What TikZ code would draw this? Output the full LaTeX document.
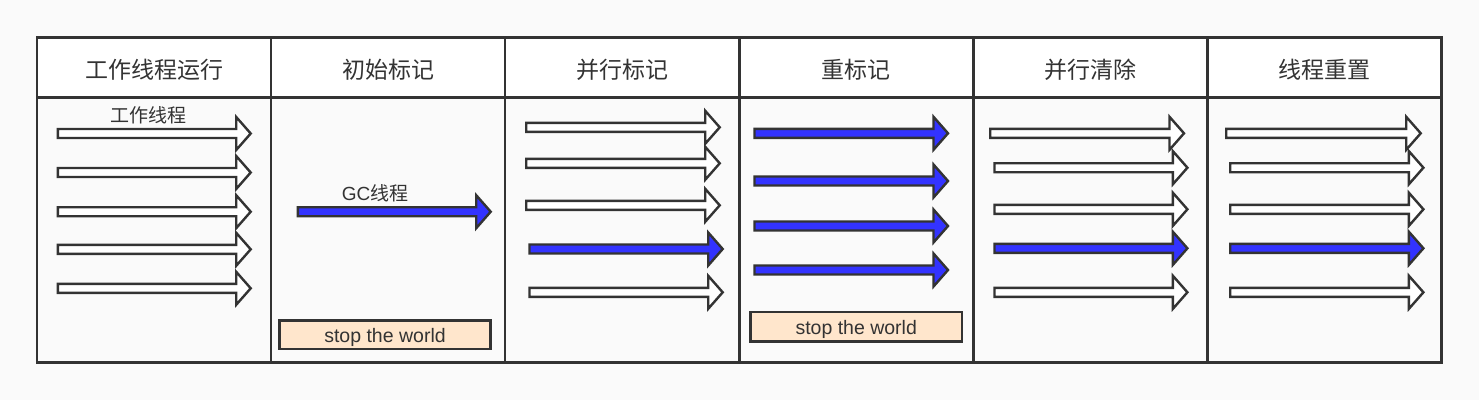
\documentclass[tikz,border=0pt]{standalone}
\usepackage{fontspec}
\setmainfont{Noto Sans CJK SC}
\newfontfamily\latinfont{Liberation Sans}
\definecolor{bgc}{HTML}{FAFAFA}
\definecolor{linec}{HTML}{333333}
\definecolor{bluec}{HTML}{3333FF}
\definecolor{peach}{HTML}{FFE6CC}
\newcommand\barrow[4]{%
  \draw[arrowline,fill=#4] (#1,#3-4.5) -- (#2,#3-4.5) -- (#2,#3-16.5) -- ({#2+14.5},#3)
   -- (#2,#3+16.5) -- (#2,#3+4.5) -- (#1,#3+4.5) -- cycle;}
\begin{document}
\begin{tikzpicture}[x=1pt,y=-1pt,
  arrowline/.style={draw=linec,line width=2.4pt,line join=miter},
  gridline/.style={draw=linec,line width=2.6pt},
  head/.style={font=\fontsize{23}{26}\selectfont,text=linec,inner sep=0pt},
  lbl/.style={font=\fontsize{19}{22}\selectfont,text=linec,inner sep=0pt},
  stw/.style={draw=linec,fill=peach,line width=2.5pt,font=\latinfont\fontsize{19.5}{22}\selectfont,text=linec,inner sep=0pt,text height=19pt,text depth=4pt}]
\useasboundingbox (0,0) rectangle (1479,400);
\fill[bgc] (0,0) rectangle (1479,400);
\fill[white] (37,37.5) rectangle (1441.5,97.3);
% grid
\draw[gridline] (37,37.5) rectangle (1441.5,362.3);
\draw[gridline] (37,97.3) -- (1441.5,97.3);
\foreach \x in {271,505,739.4,973.4,1207.4} \draw[gridline] (\x,37.5) -- (\x,362.3);
% headers
\node[head] (h1) at (154,69.5) {工作线程运行};
\node[head] (h2) at (388,69.5) {初始标记};
\node[head] (h3) at (622,69.5) {并行标记};
\node[head] (h4) at (856,69.5) {重标记};
\node[head] (h5) at (1090,69.5) {并行清除};
\node[head] (h6) at (1324.5,69.5) {线程重置};
% column 1
\node[lbl] (l1) at (148,115.5) {工作线程};
\foreach \y in {133.5,172.5,211.7,249.3,288.3} {\barrow{57.9}{236.2}{\y}{white}}
% column 2
\node[lbl] (l2) at (375,193) {{\latinfont GC}线程};
\barrow{297.9}{476.2}{211.7}{bluec}
\node[stw,minimum width=211pt,minimum height=28.5pt] (s1) at (385,334.7) {stop the world};
% column 3
\foreach \y in {127.3,163.3,205.3} {\barrow{526.2}{705.2}{\y}{white}}
\barrow{529.5}{708.2}{249}{bluec}
\barrow{529.5}{708.2}{292.3}{white}
% column 4
\foreach \y in {133.3,181,226,270} {\barrow{754.5}{933.5}{\y}{bluec}}
\node[stw,minimum width=211.5pt,minimum height=29.5pt] (s2) at (856.2,326.7) {stop the world};
% column 5
\barrow{990.2}{1169.5}{133.3}{white}
\foreach \y in {167.7,209.3,292.3} {\barrow{994.5}{1172.9}{\y}{white}}
\barrow{994.5}{1172.9}{248.3}{bluec}
% column 6
\barrow{1226.2}{1406.2}{133.3}{white}
\foreach \y in {167.7,209.3,292.3} {\barrow{1230.2}{1408.9}{\y}{white}}
\barrow{1230.2}{1408.9}{248.3}{bluec}
\end{tikzpicture}
\end{document}
